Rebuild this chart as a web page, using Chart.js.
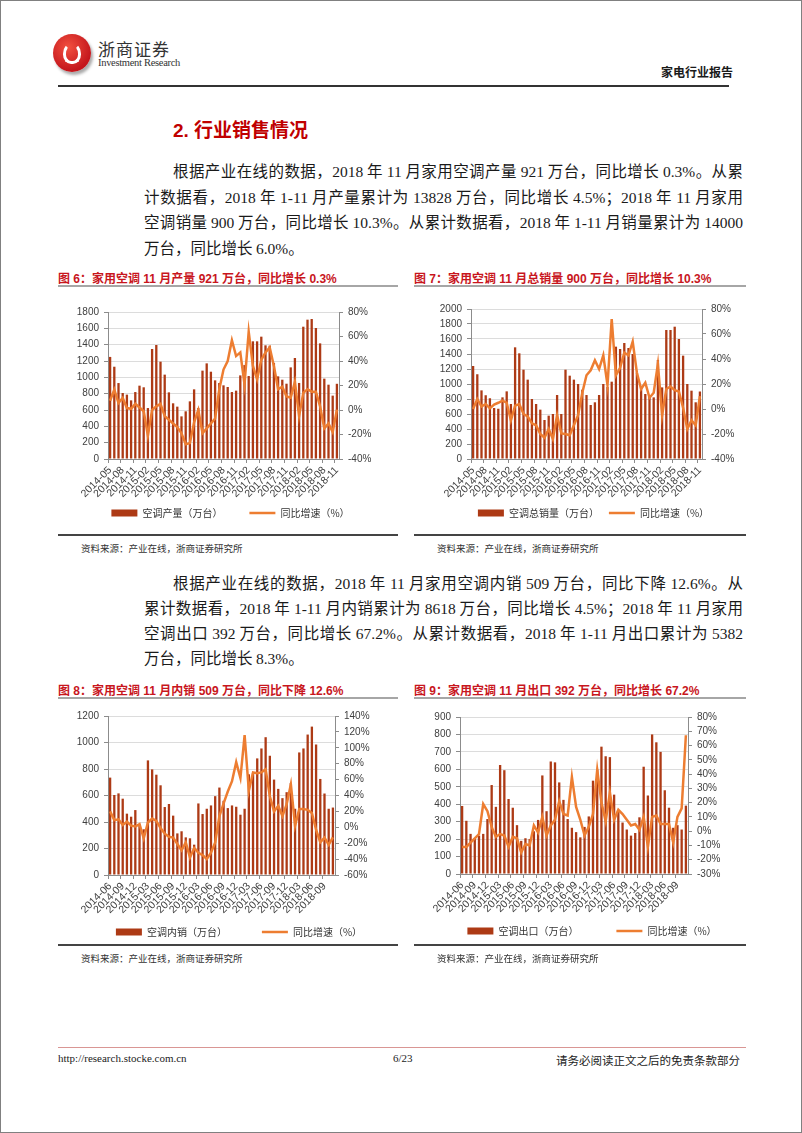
<!DOCTYPE html>
<html>
<head>
<meta charset="utf-8">
<title>家电行业报告</title>
<script src="https://cdn.jsdelivr.net/npm/chart.js@4.4.1/dist/chart.umd.min.js"></script>
<style>
  body { margin: 0; background: #fff; }
  #page { position: relative; width: 800px; height: 1131px; border: 1px solid #808080; overflow: hidden;
          font-family: "Liberation Serif", "Noto Sans CJK SC", serif; color: #1a1a1a; }
  .abs { position: absolute; white-space: nowrap; }
  #logo { left: 52px; top: 33px; width: 38px; height: 38px; border-radius: 50%;
          background: radial-gradient(circle at 40% 35%, #f2503f, #c4161c 70%); box-shadow: 2px 3px 3px #aaa; }
  #logo::after { content: ''; position: absolute; left: 10px; top: 9px; width: 12px; height: 15px;
          border: 3px solid #fff; border-top-color: transparent; border-radius: 50% 50% 45% 45%; }
  .brand { left: 97px; top: 35px; font-size: 17px; letter-spacing: 1px; color: #333; }
  .brand-en { left: 97px; top: 56px; font-size: 10.5px; color: #333; letter-spacing: -0.3px; }
  .doc-type { left: 660px; top: 62px; font-size: 12px; font-weight: bold; font-family: "Noto Sans CJK SC", sans-serif; }
  .rule { position: absolute; }
  h2 { position: absolute; margin: 0; left: 172px; top: 114px; font-size: 19px; color: #c00000;
       font-family: "Liberation Sans", "Noto Sans CJK SC", sans-serif; font-weight: bold; }
  .line { position: absolute; white-space: nowrap; font-size: 15.5px; line-height: 25px; word-spacing: -0.5px; }
  .just { text-align: justify; text-align-last: justify; }
  .cap { position: absolute; white-space: nowrap; font-size: 12px; font-weight: bold; color: #c8161d;
         font-family: "Liberation Sans", "Noto Sans CJK SC", sans-serif; }
  .src { position: absolute; white-space: nowrap; font-size: 9.5px; color: #333; }
  canvas { position: absolute; }
  .foot { position: absolute; white-space: nowrap; font-size: 11px; color: #222; top: 1051px; }
</style>
</head>
<body>
<div id="page">
  <div id="logo" class="abs"></div>
  <div class="abs brand">浙商证券</div>
  <div class="abs brand-en">Investment Research</div>
  <div class="abs doc-type">家电行业报告</div>
  <div class="rule" style="left:57px;top:84px;width:671px;height:1.5px;background:#333"></div>

  <h2>2. 行业销售情况</h2>

  <div class="line just" style="left:172px;top:158px;width:570px">根据产业在线的数据，2018 年 11 月家用空调产量 921 万台，同比增长 0.3%。从累</div>
  <div class="line just" style="left:143px;top:184px;width:599px">计数据看，2018 年 1-11 月产量累计为 13828 万台，同比增长 4.5%；2018 年 11 月家用</div>
  <div class="line just" style="left:143px;top:209px;width:599px">空调销量 900 万台，同比增长 10.3%。从累计数据看，2018 年 1-11 月销量累计为 14000</div>
  <div class="line" style="left:143px;top:235px">万台，同比增长 6.0%。</div>

  <div class="cap" style="left:57px;top:268px">图 6：家用空调 11 月产量 921 万台，同比增长 0.3%</div>
  <div class="cap" style="left:413px;top:268px">图 7：家用空调 11 月总销量 900 万台，同比增长 10.3%</div>
  <div class="rule" style="left:57px;top:284px;width:340px;height:2px;background:#a6a6a6"></div>
  <div class="rule" style="left:413px;top:284px;width:332px;height:2px;background:#a6a6a6"></div>

  <canvas id="c1" width="345" height="232" style="left:57px;top:295px"></canvas>
  <canvas id="c2" width="359" height="232" style="left:413px;top:295px"></canvas>

  <div class="rule" style="left:57px;top:533px;width:340px;height:1.5px;background:#444"></div>
  <div class="rule" style="left:413px;top:533px;width:332px;height:1.5px;background:#444"></div>
  <div class="src" style="left:80px;top:540px">资料来源：产业在线，浙商证券研究所</div>
  <div class="src" style="left:436px;top:540px">资料来源：产业在线，浙商证券研究所</div>

  <div class="line just" style="left:172px;top:570px;width:570px">根据产业在线的数据，2018 年 11 月家用空调内销 509 万台，同比下降 12.6%。从</div>
  <div class="line just" style="left:143px;top:595px;width:599px">累计数据看，2018 年 1-11 月内销累计为 8618 万台，同比增长 4.5%；2018 年 11 月家用</div>
  <div class="line just" style="left:143px;top:620px;width:599px">空调出口 392 万台，同比增长 67.2%。从累计数据看，2018 年 1-11 月出口累计为 5382</div>
  <div class="line" style="left:143px;top:645px">万台，同比增长 8.3%。</div>

  <div class="cap" style="left:57px;top:680px">图 8：家用空调 11 月内销 509 万台，同比下降 12.6%</div>
  <div class="cap" style="left:413px;top:680px">图 9：家用空调 11 月出口 392 万台，同比增长 67.2%</div>
  <div class="rule" style="left:57px;top:696px;width:340px;height:2px;background:#a6a6a6"></div>
  <div class="rule" style="left:413px;top:696px;width:332px;height:2px;background:#a6a6a6"></div>

  <canvas id="c3" width="362" height="244" style="left:57px;top:702px"></canvas>
  <canvas id="c4" width="356" height="243" style="left:413px;top:702px"></canvas>

  <div class="rule" style="left:57px;top:943px;width:340px;height:1.5px;background:#444"></div>
  <div class="rule" style="left:413px;top:943px;width:332px;height:1.5px;background:#444"></div>
  <div class="src" style="left:80px;top:950px">资料来源：产业在线，浙商证券研究所</div>
  <div class="src" style="left:436px;top:950px">资料来源：产业在线，浙商证券研究所</div>

  <div class="rule" style="left:57px;top:1046px;width:688px;height:1px;background:#d99694"></div>
  <div class="foot" style="left:57px">http://research.stocke.com.cn</div>
  <div class="foot" style="left:392px">6/23</div>
  <div class="foot" style="left:555px;font-size:11.5px">请务必阅读正文之后的免责条款部分</div>
</div>

<script>
// month labels
function monthRange(year, month, count) {
    const out = [];
    for (let i = 0; i < count; i++) {
        const m = month - 1 + i;
        out.push((year + Math.floor(m / 12)) + '-' + String(m % 12 + 1).padStart(2, '0'));
    }
    return out;
}
const monthsA = monthRange(2014, 5, 55);   // 2014-05 .. 2018-11
const monthsB = monthRange(2014, 6, 54);   // 2014-06 .. 2018-11

// 图6 产量（万台）/ 同比（%）
const prodVol = [1250, 1130, 930, 808, 788, 718, 820, 898, 878, 624,
    1347, 1396, 1192, 1033, 816, 682, 641, 522, 584, 706,
    853, 624, 1082, 1171, 1069, 963, 931, 902, 882, 820,
    837, 1024, 1150, 1016, 1441, 1441, 1498, 1392, 1388, 1176,
    1012, 971, 922, 1122, 1237, 931, 1620, 1706, 1714, 1604,
    1416, 984, 910, 776, 921];
const prodYoy = [7.6, 16.6, 5.7, 9.8, 1.6, 1.0, 5, 2, -1, -21,
    0, 3, 5, -5, -8, -11, -14, -19, -28, -27,
    -10, 0, -19, -15, -11, -7, 17, 33, 40, 57,
    44, 47, 21, 64, 36, 25, 41, 47, 51, 36,
    17, 19, 11, 10, 23, -5, 14, 17, 15, 15,
    3, -15, -11, -18, 0.3];

// 图7 总销量
const salesVol = [1240, 1130, 915, 850, 810, 680, 670, 822, 902, 733,
    1489, 1409, 1191, 1058, 800, 733, 658, 520, 578, 600,
    853, 600, 1191, 1111, 1058, 1000, 924, 853, 720, 756,
    853, 1000, 960, 1031, 1498, 1467, 1547, 1480, 1400, 1150,
    960, 867, 853, 822, 1320, 955, 1720, 1720, 1764, 1600,
    1378, 1000, 911, 756, 900];
const salesYoy = [0, 8, 2, 4, 0.5, 3.5, 5, 6.7, 5, -9,
    2.7, 4, -4, -6, -11.5, -13, -20, -23, -16, -24,
    -5, -19.5, -20, -21, -13, -5, 13, 27, 31, 39,
    32, 43, 19, 72, 27, 33, 45, 43, 54, 29,
    16, 21, 9, 13, 36, -5, 16, 18, 15, 14,
    1, -16, -9, -13, 10.3];

// 图8 内销
const domVol = [735, 604, 616, 576, 463, 440, 490, 380, 345, 865,
    797, 757, 677, 513, 536, 448, 314, 330, 284, 277,
    229, 540, 460, 500, 525, 595, 660, 560, 505, 525,
    515, 455, 500, 760, 770, 880, 955, 1040, 900, 720,
    650, 580, 625, 695, 500, 925, 955, 1060, 1120, 985,
    725, 615, 500, 509];
const domYoy = [20, 9, 10, 3, 7, 2, 1, 4, -14, 6,
    11, 8, -1, -8, -12, -13, -21, -29, -19, -38,
    -26, -32, -35, -40, -32, -19, 14, 30, 45, 58,
    82, 62, 116, 46, 69, 68, 69, 73, 39, 20,
    27, 14, 29, 54, 2, 23, 23, 22, 18, -3,
    -19, -13, -22, -12.6];

// 图9 出口
const expVol = [390, 305, 230, 205, 220, 230, 315, 510, 385, 625,
    595, 430, 380, 280, 190, 205, 200, 245, 310, 565,
    360, 645, 640, 525, 425, 315, 265, 240, 210, 270,
    330, 535, 600, 730, 675, 670, 455, 360, 295, 255,
    220, 235, 325, 615, 450, 800, 755, 700, 480, 380,
    265, 280, 255, 392];
const expYoy = [-11, -11, -8, -5, -2, 19, 14, 3, -4, -2,
    -3, -11, -4, -5, -15, -9, -10, 4, -1, 10,
    -3, 4, 8, 21, 12, 11, 38, 17, 8, -3,
    3, 12, 43, 20, 7, 27, 8, 15, 12, 8,
    4, 5, 1, 10, -11, 10, 11, 5, 5, 5,
    -8, 10, 16, 67.2];

const BAR_COLOR = '#ad3a15';
const LINE_COLOR = '#ed7d31';
const AXIS_COLOR = '#8c8c8c';
const TEXT_COLOR = '#404040';

Chart.defaults.font.family = '"Liberation Sans", "Noto Sans CJK SC", sans-serif';
Chart.defaults.font.size = 10;

// the x axis box is kept short so the legend sits close; let its labels draw below it
const labelRoom = {
    id: 'labelRoom',
    afterLayout(chart) {
        chart.scales.x.bottom = chart.height;
    }
};

function makeChart(id, labels, bars, yoy, barName, lAxis, rAxis, box) {
    return new Chart(document.getElementById(id), {
        data: {
            labels: labels,
            datasets: [{
                type: 'bar',
                label: barName,
                data: bars,
                yAxisID: 'y',
                order: 1,
                backgroundColor: BAR_COLOR,
                barPercentage: 0.55,
                categoryPercentage: 1,
                pointStyle: 'rect'
            }, {
                type: 'line',
                label: '同比增速（%）',
                data: yoy,
                yAxisID: 'y1',
                order: 0,
                borderColor: LINE_COLOR,
                backgroundColor: LINE_COLOR,
                borderWidth: 2.5,
                pointRadius: 0,
                tension: 0,
                pointStyle: 'line'
            }]
        },
        options: {
            responsive: false,
            animation: false,
            devicePixelRatio: 1,
            layout: { padding: { top: box.top } },
            plugins: {
                tooltip: { enabled: false },
                legend: {
                    position: 'bottom',
                    labels: {
                        usePointStyle: true,
                        pointStyleWidth: 26,
                        boxHeight: 7,
                        padding: box.gap,
                        color: '#333',
                        font: { size: 10, family: '"Noto Sans CJK SC", sans-serif' },
                        sort: (a, b) => a.datasetIndex - b.datasetIndex
                    }
                }
            },
            scales: {
                x: {
                    offset: true,
                    grid: {
                        drawOnChartArea: false,
                        tickLength: 4,
                        color: c => c.index % 3 === 0 ? AXIS_COLOR : 'rgba(0,0,0,0)'
                    },
                    border: { color: AXIS_COLOR },
                    ticks: {
                        autoSkip: false,
                        minRotation: 45,
                        maxRotation: 45,
                        padding: 1,
                        color: TEXT_COLOR,
                        font: { size: 10.5 },
                        callback: (v, i) => i % 3 === 0 ? labels[i] : ''
                    },
                    afterFit: s => { s.height = box.xh; }
                },
                y: {
                    position: 'left',
                    min: 0,
                    max: lAxis.max,
                    ticks: { stepSize: lAxis.step, autoSkip: false, padding: 5, color: TEXT_COLOR, callback: v => String(v) },
                    grid: { color: '#dcdcdc', tickLength: 4, tickColor: AXIS_COLOR },
                    border: { color: AXIS_COLOR },
                    afterFit: s => { s.width = box.left; }
                },
                y1: {
                    position: 'right',
                    min: rAxis.min,
                    max: rAxis.max,
                    ticks: { stepSize: rAxis.step, autoSkip: false, padding: 5, color: TEXT_COLOR, callback: v => v + '%' },
                    grid: { drawOnChartArea: false, tickLength: 4, tickColor: AXIS_COLOR },
                    border: { color: AXIS_COLOR },
                    afterFit: s => { s.width = box.right; }
                }
            }
        },
        plugins: [labelRoom]
    });
}

makeChart('c1', monthsA, prodVol, prodYoy, '空调产量（万台）',
    { max: 1800, step: 200 }, { min: -40, max: 80, step: 20 },
    { top: 16, left: 50, right: 64, xh: 22, gap: 27 });
makeChart('c2', monthsA, salesVol, salesYoy, '空调总销量（万台）',
    { max: 2000, step: 200 }, { min: -40, max: 80, step: 20 },
    { top: 13, left: 57, right: 71, xh: 39, gap: 10 });
makeChart('c3', monthsB, domVol, domYoy, '空调内销（万台）',
    { max: 1200, step: 200 }, { min: -60, max: 140, step: 20 },
    { top: 13, left: 50, right: 85, xh: 17, gap: 35 });
makeChart('c4', monthsB, expVol, expYoy, '空调出口（万台）',
    { max: 900, step: 100 }, { min: -30, max: 80, step: 10 },
    { top: 14, left: 46, right: 82, xh: 14, gap: 38 });
</script>
</body>
</html>
